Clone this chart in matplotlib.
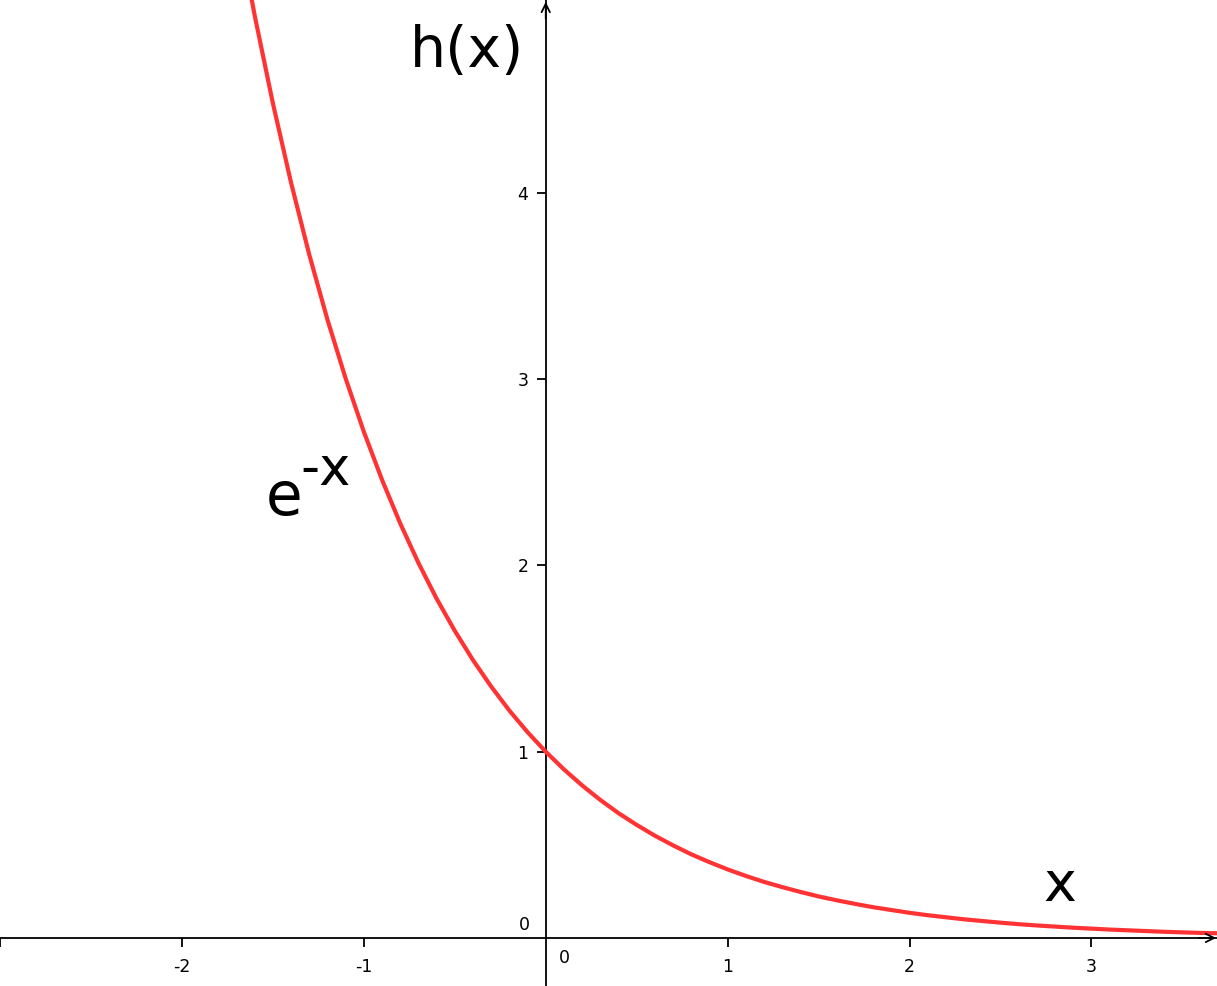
import matplotlib.pyplot as plt

# sampled values of the red curve h(x) = e^-x
x_vals = [-1.7, -1.6, -1.5, -1.4, -1.3, -1.2, -1.1, -1.0, -0.9, -0.8, -0.7, -0.6,
          -0.5, -0.4, -0.3, -0.2, -0.1, 0.0, 0.1, 0.2, 0.3, 0.4, 0.5, 0.6, 0.7,
          0.8, 0.9, 1.0, 1.1, 1.2, 1.3, 1.4, 1.5, 1.6, 1.7, 1.8, 1.9, 2.0, 2.1,
          2.2, 2.3, 2.4, 2.5, 2.6, 2.7, 2.8, 2.9, 3.0, 3.1, 3.2, 3.3, 3.4, 3.5,
          3.6, 3.7]
h_vals = [5.474, 4.953, 4.482, 4.055, 3.669, 3.320, 3.004, 2.718, 2.460, 2.226,
          2.014, 1.822, 1.649, 1.492, 1.350, 1.221, 1.105, 1.000, 0.905, 0.819,
          0.741, 0.670, 0.607, 0.549, 0.497, 0.449, 0.407, 0.368, 0.333, 0.301,
          0.273, 0.247, 0.223, 0.202, 0.183, 0.165, 0.150, 0.135, 0.122, 0.111,
          0.100, 0.091, 0.082, 0.074, 0.067, 0.061, 0.055, 0.050, 0.045, 0.041,
          0.037, 0.033, 0.030, 0.027, 0.025]

x_ticks = [-3, -2, -1, 1, 2, 3]
x_tick_labels = ['', '-2', '-1', '1', '2', '3']
y_ticks = [1, 2, 3, 4]
y_tick_labels = ['1', '2', '3', '4']

xmin, xmax = -2.995, 3.69
ymin, ymax = -0.258, 5.036

fig = plt.figure(figsize=(12.17, 9.86), dpi=100)
ax = fig.add_axes([0, 0, 1, 1])
ax.set_xlim(xmin, xmax)
ax.set_ylim(ymin, ymax)

ax.plot(x_vals, h_vals, color='#ff3333', lw=3.0, solid_capstyle='butt', zorder=3)

# axes through the origin
for s in ['top', 'right']:
    ax.spines[s].set_visible(False)
ax.spines['left'].set_position(('data', 0))
ax.spines['bottom'].set_position(('data', 0))
for s in ['left', 'bottom']:
    ax.spines[s].set_linewidth(1.3)
    ax.spines[s].set_zorder(2)

ax.set_xticks(x_ticks)
ax.set_xticklabels(x_tick_labels)
ax.set_yticks(y_ticks)
ax.set_yticklabels(y_tick_labels)
ax.tick_params(axis='both', direction='out', length=6.5, width=1.3, labelsize=12.5)
ax.tick_params(axis='x', pad=8)
ax.tick_params(axis='y', pad=6)

ax.text(0.1, -0.11, '0', fontsize=12.5, ha='center', va='center')
ax.text(-0.115, 0.07, '0', fontsize=12.5, ha='center', va='center')

# arrow heads
ax.annotate('', xy=(xmax - 0.005, 0), xytext=(xmax - 0.1, 0),
            arrowprops=dict(arrowstyle='->', lw=1.3, color='black',
                            mutation_scale=15, shrinkA=0, shrinkB=0))
ax.annotate('', xy=(0, ymax - 0.01), xytext=(0, ymax - 0.1),
            arrowprops=dict(arrowstyle='->', lw=1.3, color='black',
                            mutation_scale=15, shrinkA=0, shrinkB=0))

# labels
ax.text(-0.745, 4.675, 'h(x)', fontsize=41, ha='left', va='baseline')
ax.text(-1.54, 2.271, 'e', fontsize=43, ha='left', va='baseline')
ax.text(-1.35, 2.432, '-x', fontsize=38, ha='left', va='baseline')
ax.text(2.735, 0.197, 'x', fontsize=40, ha='left', va='baseline')

plt.savefig('out.png', dpi=100)
